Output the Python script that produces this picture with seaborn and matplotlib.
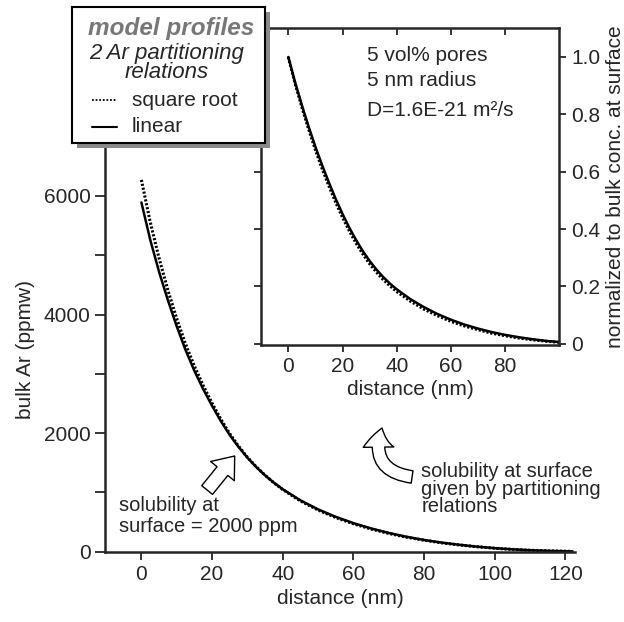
import matplotlib
matplotlib.use("Agg")
import matplotlib.pyplot as plt
from matplotlib.patches import Rectangle
import numpy as np
import pandas as pd
import seaborn as sns

# main panel: bulk Ar profiles (ppmw) vs distance (nm)
main_dist = [0, 2.5, 5, 7.5, 10, 12.5, 15, 17.5, 20, 22.5, 25, 27.5, 30, 32.5, 35, 37.5, 40, 45, 50,
             55, 60, 65, 70, 75, 80, 85, 90, 95, 100, 105, 110, 116, 122]
main_linear = [5890, 5260, 4720, 4240, 3800, 3400, 3050, 2740, 2460, 2200, 1968, 1765, 1585, 1427,
               1287, 1163, 1053, 866, 714, 588, 482, 392, 316, 252, 198, 153, 116, 85, 60, 40, 25, 13, 5]
main_sqrt = [6270, 5560, 4950, 4410, 3930, 3500, 3130, 2800, 2505, 2232, 1990, 1779, 1593, 1432,
             1289, 1161, 1048, 856, 702, 576, 471, 382, 308, 245, 193, 149, 113, 83, 58, 39, 24, 13, 5]

# inset: normalized to bulk conc. at surface
inset_dist = [0, 2.5, 5, 7.5, 10, 12.5, 15, 17.5, 20, 22.5, 25, 27.5, 30, 32.5, 35, 37.5, 40, 45, 50,
              55, 60, 65, 70, 75, 80, 85, 90, 95, 100]
inset_linear = [1.0, 0.912, 0.832, 0.757, 0.687, 0.622, 0.562, 0.505, 0.453, 0.405, 0.362, 0.323,
                0.289, 0.259, 0.233, 0.21, 0.19, 0.156, 0.128, 0.104, 0.084, 0.067, 0.053, 0.041,
                0.031, 0.023, 0.016, 0.01, 0.006]
inset_sqrt = [1.0, 0.908, 0.825, 0.748, 0.676, 0.61, 0.55, 0.493, 0.441, 0.394, 0.351, 0.313,
              0.279, 0.25, 0.224, 0.202, 0.182, 0.149, 0.121, 0.098, 0.078, 0.062, 0.049, 0.037,
              0.028, 0.02, 0.014, 0.009, 0.005]

main_xticks = [0, 20, 40, 60, 80, 100, 120]
main_yticks = [0, 2000, 4000, 6000]
inset_xticks = [0, 20, 40, 60, 80]
inset_yticks = [0, 0.2, 0.4, 0.6, 0.8, 1.0]
inset_yticklabels = ["0", "0.2", "0.4", "0.6", "0.8", "1.0"]

sns.set_style("ticks")
plt.rcParams['font.family'] = ['Liberation Sans', 'DejaVu Sans']
plt.rcParams['font.size'] = 15

W, H = 624, 622
fig = plt.figure(figsize=(W / 100, H / 100), dpi=100)

def fbox(x0, y0, x1, y1):
    # pixel box (top-left origin) -> figure fraction
    return [x0 / W, 1 - y1 / H, (x1 - x0) / W, (y1 - y0) / H]

main_df = pd.DataFrame({"distance": main_dist, "linear": main_linear, "sqrt": main_sqrt})
inset_df = pd.DataFrame({"distance": inset_dist, "linear": inset_linear, "sqrt": inset_sqrt})

dot_style = (0, (0.7, 0.6))

# main axes
ax = fig.add_axes(fbox(105, 146.7, 575, 551.7), zorder=0)
sns.lineplot(data=main_df, x="distance", y="sqrt", ax=ax, color="black", lw=2.2, linestyle=dot_style)
sns.lineplot(data=main_df, x="distance", y="linear", ax=ax, color="black", lw=1.8)
ax.set_xlim(-10.3, 122.7)
ax.set_ylim(0, 6830)
ax.set_xticks(main_xticks)
ax.set_yticks(main_yticks)
ax.set_yticks([1000, 3000, 5000], minor=True)
ax.tick_params(which="both", direction="out", length=7, width=1.3, labelsize=15)
ax.tick_params(axis="x", length=6)
ax.set_xlabel("distance (nm)", fontsize=15, labelpad=4)
ax.set_ylabel("bulk Ar (ppmw)", fontsize=15, labelpad=6)
for s in ["top", "right"]:
    ax.spines[s].set_visible(False)
for s in ["left", "bottom"]:
    ax.spines[s].set_linewidth(1.8)

ax.text(-6.3, 598, "solubility at\nsurface = 2000 ppm", fontsize=14.5, ha="left", va="center", linespacing=1.1)
ax.annotate("", xy=(26.4, 1614), xytext=(18.6, 1040),
            arrowprops=dict(arrowstyle="simple,head_length=0.7,head_width=1.1,tail_width=0.5",
                            fc="white", ec="black", lw=1, mutation_scale=20, shrinkA=0, shrinkB=0))
ax.text(79.2, 1050, "solubility at surface\ngiven by partitioning\nrelations", fontsize=14.5,
        ha="left", va="center", linespacing=0.9)
ax.annotate("", xy=(68.1, 2086), xytext=(76.6, 1260),
            arrowprops=dict(arrowstyle="simple,head_length=0.7,head_width=1.1,tail_width=0.45",
                            fc="white", ec="black", lw=1, mutation_scale=20, shrinkA=0, shrinkB=0,
                            connectionstyle="arc3,rad=-0.6"))

# inset axes
ins = fig.add_axes(fbox(261.2, 28.3, 559.3, 345.5), zorder=1)
sns.lineplot(data=inset_df, x="distance", y="sqrt", ax=ins, color="black", lw=2.2, linestyle=dot_style)
sns.lineplot(data=inset_df, x="distance", y="linear", ax=ins, color="black", lw=1.8)
ins.set_xlim(-10, 100)
ins.set_ylim(-0.006, 1.1)
ins.set_xticks(inset_xticks)
ins.set_yticks(inset_yticks)
ins.set_yticklabels(inset_yticklabels)
ins.tick_params(axis="x", which="both", top=True, bottom=True, direction="out", length=5, width=1.3, labelsize=15)
ins.tick_params(axis="y", which="both", left=True, right=True, labelleft=False, labelright=True,
                direction="out", length=5, width=1.3, labelsize=15)
for s in ins.spines.values():
    s.set_linewidth(1.8)
ins.set_xlabel("distance (nm)", fontsize=15, labelpad=3)
ins.set_ylabel("normalized to bulk conc. at surface", fontsize=15, labelpad=4)
ins.yaxis.set_label_position("right")
# inward ticks on top and left
for t in ins.xaxis.get_major_ticks():
    t.tick2line.set_marker(3)
for t in ins.yaxis.get_major_ticks():
    t.tick1line.set_marker(0)
ins.text(29, 1.005, "5 vol% pores", fontsize=15, ha="left", va="center")
ins.text(29, 0.918, "5 nm radius", fontsize=15, ha="left", va="center")
ins.text(29, 0.814, "D=1.6E-21 m²/s", fontsize=15, ha="left", va="center")

# legend box with drop shadow
shadow = Rectangle((77 / W, 1 - 148 / H), 193 / W, 136 / H, transform=fig.transFigure,
                   facecolor="#8a8a8a", edgecolor="none", zorder=2)
fig.add_artist(shadow)
leg = fig.add_axes(fbox(72, 7, 265, 143), zorder=3)
leg.set_xlim(0, 1)
leg.set_ylim(0, 1)
leg.set_xticks([])
leg.set_yticks([])
leg.set_facecolor("white")
for s in leg.spines.values():
    s.set_linewidth(1.5)
    s.set_color("black")
leg.text(0.512, 0.84, "model profiles", fontsize=17.5, fontweight="bold", fontstyle="italic",
         color="#777777", ha="center", va="center")
leg.text(0.49, 0.655, "2 Ar partitioning", fontsize=16, fontstyle="italic", ha="center", va="center")
leg.text(0.49, 0.515, "relations", fontsize=16, fontstyle="italic", ha="center", va="center")
leg.plot([0.104, 0.233], [0.316, 0.316], color="black", lw=1.3, linestyle=(0, (1, 1)))
leg.plot([0.104, 0.233], [0.118, 0.118], color="black", lw=1.5)
leg.text(0.311, 0.316, "square root", fontsize=15, ha="left", va="center")
leg.text(0.311, 0.118, "linear", fontsize=15, ha="left", va="center")

fig.savefig("out.png", dpi=100)
